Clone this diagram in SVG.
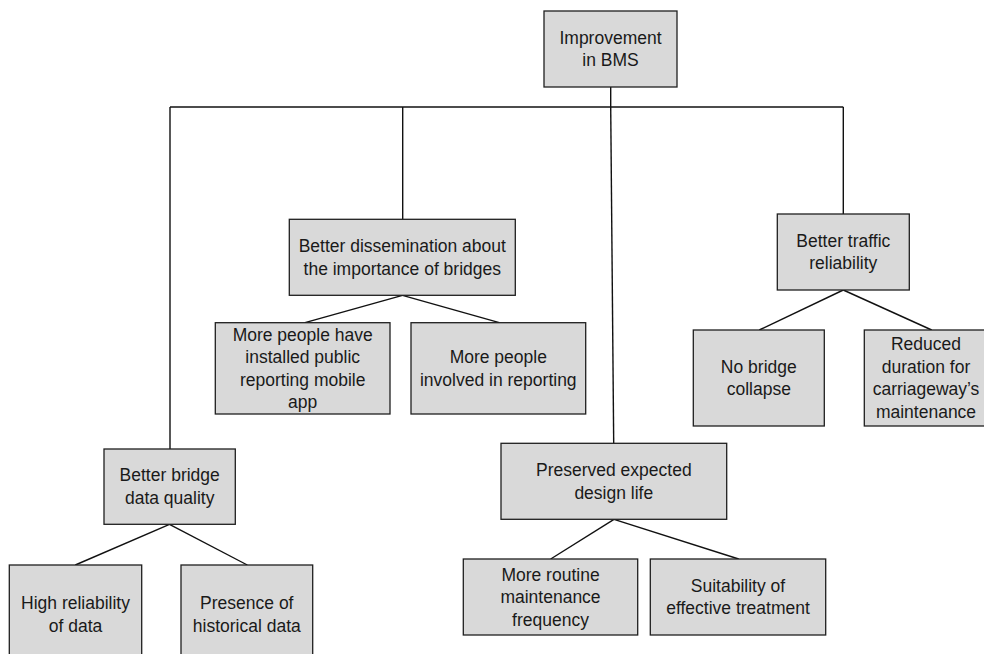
<svg xmlns="http://www.w3.org/2000/svg" width="984" height="654" viewBox="0 0 984 654">
<style>
.box{fill:#d9d9d9;stroke:#1f1f1f;stroke-width:1.3}
.lbl{font-family:"Liberation Sans",Arial,sans-serif;font-size:17.5px;fill:#1a1a1a;text-anchor:middle}
.con{stroke:#111;stroke-width:1.4;fill:none}
</style>
<rect width="984" height="654" fill="#fff"/>
<g id="connectors">
<line class="con" x1="610.7" y1="87" x2="610.7" y2="107"/>
<line class="con" x1="170" y1="107" x2="843.3" y2="107"/>
<line class="con" x1="170" y1="107" x2="170" y2="449"/>
<line class="con" x1="402.7" y1="107" x2="402.7" y2="219.3"/>
<line class="con" x1="610.7" y1="107" x2="613.7" y2="443.3"/>
<line class="con" x1="843.3" y1="107" x2="843.3" y2="214"/>
<line class="con" x1="402.5" y1="295.3" x2="305" y2="322.7"/>
<line class="con" x1="402.5" y1="295.3" x2="499.3" y2="322.7"/>
<line class="con" x1="843.3" y1="290" x2="759.3" y2="330"/>
<line class="con" x1="843.3" y1="290" x2="931.7" y2="330"/>
<line class="con" x1="169.5" y1="524.3" x2="75.3" y2="565"/>
<line class="con" x1="169.5" y1="524.3" x2="247.3" y2="565"/>
<line class="con" x1="614" y1="519.3" x2="550.7" y2="559"/>
<line class="con" x1="614" y1="519.3" x2="738.7" y2="559"/>
</g>
<g id="root">
<rect class="box" x="544" y="11" width="133" height="76"/>
<text class="lbl" x="610.5" y="43.8">Improvement</text>
<text class="lbl" x="610.5" y="66.3">in BMS</text>
</g>
<g id="dissemination">
<rect class="box" x="289.3" y="219.3" width="226" height="76"/>
<text class="lbl" x="402.3" y="252">Better dissemination about</text>
<text class="lbl" x="402.3" y="274.5">the importance of bridges</text>
</g>
<g id="app">
<rect class="box" x="215.3" y="322.7" width="174.7" height="91.3"/>
<text class="lbl" x="302.7" y="340.6">More people have</text>
<text class="lbl" x="302.7" y="363.1">installed public</text>
<text class="lbl" x="302.7" y="385.6">reporting mobile</text>
<text class="lbl" x="302.7" y="408.1">app</text>
</g>
<g id="involved">
<rect class="box" x="411" y="322.7" width="174.7" height="91.3"/>
<text class="lbl" x="498.3" y="363.1">More people</text>
<text class="lbl" x="498.3" y="385.6">involved in reporting</text>
</g>
<g id="traffic">
<rect class="box" x="777.3" y="214" width="132" height="76"/>
<text class="lbl" x="843.3" y="246.8">Better traffic</text>
<text class="lbl" x="843.3" y="269.3">reliability</text>
</g>
<g id="collapse">
<rect class="box" x="693.3" y="330" width="131" height="96"/>
<text class="lbl" x="758.8" y="372.8">No bridge</text>
<text class="lbl" x="758.8" y="395.3">collapse</text>
</g>
<g id="duration">
<rect class="box" x="864.3" y="330" width="124" height="96"/>
<text class="lbl" x="926" y="350.3">Reduced</text>
<text class="lbl" x="926" y="372.8">duration for</text>
<text class="lbl" x="926" y="395.3">carriageway’s</text>
<text class="lbl" x="926" y="417.8">maintenance</text>
</g>
<g id="dataquality">
<rect class="box" x="104" y="449" width="131.3" height="75.3"/>
<text class="lbl" x="169.7" y="481.4">Better bridge</text>
<text class="lbl" x="169.7" y="503.9">data quality</text>
</g>
<g id="reliability">
<rect class="box" x="9.3" y="565" width="132.4" height="100"/>
<text class="lbl" x="75.5" y="609.3">High reliability</text>
<text class="lbl" x="75.5" y="631.8">of data</text>
</g>
<g id="historical">
<rect class="box" x="181" y="565" width="131.7" height="100"/>
<text class="lbl" x="246.8" y="609.3">Presence of</text>
<text class="lbl" x="246.8" y="631.8">historical data</text>
</g>
<g id="designlife">
<rect class="box" x="501" y="443.3" width="225.7" height="76"/>
<text class="lbl" x="613.8" y="476">Preserved expected</text>
<text class="lbl" x="613.8" y="498.5">design life</text>
</g>
<g id="routine">
<rect class="box" x="463.3" y="559" width="174.4" height="76"/>
<text class="lbl" x="550.5" y="580.5">More routine</text>
<text class="lbl" x="550.5" y="603">maintenance</text>
<text class="lbl" x="550.5" y="625.5">frequency</text>
</g>
<g id="treatment">
<rect class="box" x="650.3" y="559" width="175.4" height="76"/>
<text class="lbl" x="738" y="591.8">Suitability of</text>
<text class="lbl" x="738" y="614.3">effective treatment</text>
</g>
</svg>
